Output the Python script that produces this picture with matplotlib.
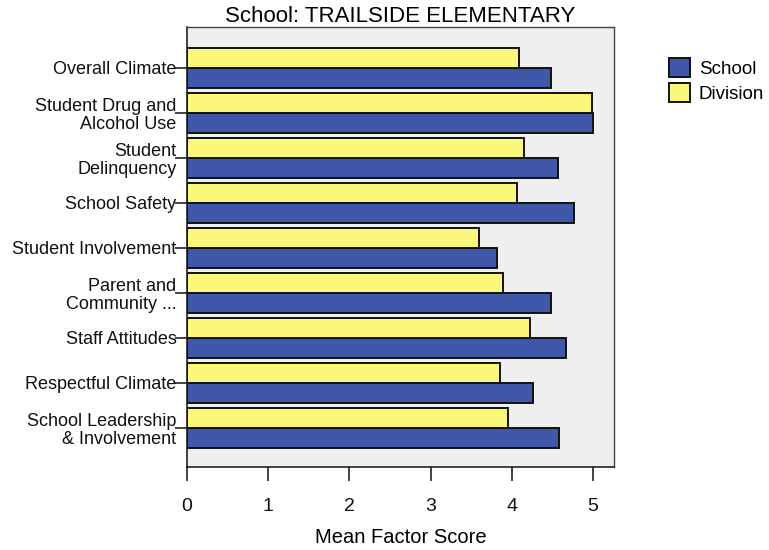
import numpy as np
import matplotlib
matplotlib.use('Agg')
import matplotlib.pyplot as plt

plt.rcParams['font.family'] = ['Liberation Sans', 'DejaVu Sans']

categories = [
    "Overall Climate",
    "Student Drug and\nAlcohol Use",
    "Student\nDelinquency",
    "School Safety",
    "Student Involvement",
    "Parent and\nCommunity ...",
    "Staff Attitudes",
    "Respectful Climate",
    "School Leadership\n& Involvement",
]
school_scores = [4.49, 5.00, 4.57, 4.77, 3.82, 4.49, 4.67, 4.26, 4.58]
division_scores = [4.09, 4.99, 4.15, 4.06, 3.60, 3.89, 4.22, 3.85, 3.95]

school_color = '#3F57A8'
division_color = '#FAF77A'

fig = plt.figure(figsize=(7.69, 5.5), dpi=100)
ax = fig.add_axes([0.2432, 0.1509, 0.5552, 0.8000])
ax.set_facecolor('#EFEFEF')

pos = np.arange(len(categories))
h = 0.44

# Division on top, School below the tick line
bars_s = ax.barh(pos + h / 2, school_scores, height=h, color=school_color,
                 edgecolor='#111111', linewidth=1.4, label='School')
bars_d = ax.barh(pos - h / 2, division_scores, height=h, color=division_color,
                 edgecolor='#111111', linewidth=1.4, label='Division')

ax.set_xlim(0, 5.26)
ax.set_ylim(len(categories) - 1 + 0.87, -0.91)
ax.set_xticks([0, 1, 2, 3, 4, 5])
ax.set_yticks(pos)
ax.set_yticklabels(categories, fontsize=13, linespacing=1.12)

ax.tick_params(axis='y', length=8.6, width=1.1, pad=-1, colors='#111111')
ax.tick_params(axis='x', length=10, width=1.1, pad=12, labelsize=14, colors='#111111')

for side in ['left', 'bottom']:
    ax.spines[side].set_linewidth(1.1)
    ax.spines[side].set_color('#111111')
for side in ['top', 'right']:
    ax.spines[side].set_linewidth(1.0)
    ax.spines[side].set_color('#444444')

ax.set_xlabel("Mean Factor Score", fontsize=14.5, labelpad=10)
ax.set_title("School: TRAILSIDE ELEMENTARY", fontsize=16, pad=1)

fig.legend(handles=[bars_s, bars_d], labels=['School', 'Division'],
           loc='upper left', bbox_to_anchor=(0.860, 0.908), frameon=False,
           fontsize=13.5, handlelength=1.15, handleheight=1.15, handletextpad=0.45,
           labelspacing=0.3, borderaxespad=0)

fig.savefig('out.png', dpi=100)
